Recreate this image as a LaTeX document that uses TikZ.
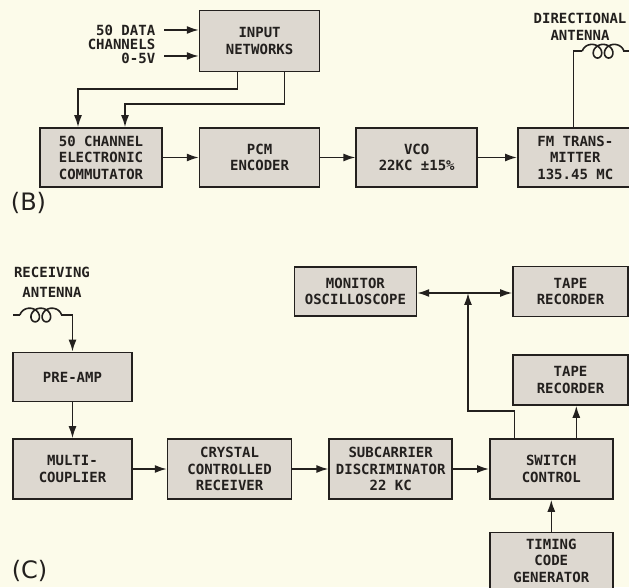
\documentclass[tikz,border=0pt]{standalone}
\usepackage{fontspec}
\setmainfont{DejaVu Sans Mono}
\newfontfamily\panelfont{DejaVu Sans}
\usetikzlibrary{positioning,arrows.meta}
\definecolor{paper}{RGB}{252,251,234}
\definecolor{boxfill}{RGB}{221,216,208}
\definecolor{ink}{RGB}{35,32,30}
\tikzset{coil/.pic = {\draw plot[domain=1.5708:17.2788, samples=120, smooth] ({1.78*\x-6.8*sin(\x r)+4.0},{-6.8*cos(\x r)});}}

\begin{document}
\begin{tikzpicture}[x=1pt, y=1pt, color=ink, line width=1.6pt,
	main/.style = {draw, fill=boxfill, minimum width=121pt, minimum height=59pt, align=center, inner sep=2pt, font=\bfseries\fontsize{14}{16.5}\selectfont},
	txt/.style = {align=center, inner sep=1pt, font=\bfseries\fontsize{14}{16}\selectfont},
	panel/.style = {inner sep=0pt, font=\panelfont\fontsize{24}{24}\selectfont},
	arr/.style = {-{Latex[length=12pt,width=8pt]}}]
	\path[use as bounding box, fill=paper] (0,0) rectangle (629,587);
	% (B) transmitting end
	\node[main, minimum width=122pt] (b1) at (101,429.5) {50 CHANNEL\\ELECTRONIC\\COMMUTATOR};
	\node[main, minimum width=120pt] (b2) [right=36pt of b1] {PCM\\ENCODER};
	\node[main] (b3) [right=35pt of b2] {VCO\\22KC ±15\%};
	\node[main, minimum width=115pt] (b4) [right=39pt of b3] {FM TRANS-\\MITTER\\135.45 MC};
	\node[main, minimum width=120pt, minimum height=61pt] (b0) [above=55pt of b2] {INPUT\\NETWORKS};
	\node[txt, align=right, anchor=east, font=\bfseries\fontsize{14}{14}\selectfont] (b5) at (157,543) {50 DATA\\CHANNELS\\0-5V};
	\node[txt, font=\bfseries\fontsize{14}{17}\selectfont] (b6) at (580,560.5) {DIRECTIONAL\\ANTENNA};
	\node[panel] (lb) at (28.5,384) {(B)};
	\coordinate (d1) at (164,557);
	\coordinate (d2) at (164,531);
	\draw[arr] (d1) -- (d1 -| b0.west);
	\draw[arr] (d2) -- (d2 -| b0.west);
	\draw[arr] ([xshift=-22pt]b0.south) -- ++(0,-17) -| ([xshift=-23pt]b1.north);
	\draw[arr] ([xshift=25pt]b0.south) -- ++(0,-32) -| ([xshift=24pt]b1.north);
	\draw[arr] (b1) -- (b2);
	\draw[arr] (b2) -- (b3);
	\draw[arr] (b3) -- (b4);
	\draw ([xshift=-2pt]b4.north) -- ++(0,76) coordinate (a1) -- ++(9,0) coordinate (a2);
	\pic at (a2) {coil};
	\draw ([xshift=41pt]a2) -- ++(20,0);
	% (C) receiving end
	\node[main, minimum width=119pt, minimum height=60pt] (c1) at (72.5,118) {MULTI-\\COUPLIER};
	\node[main, minimum width=124pt, minimum height=60pt] (c2) [right=34pt of c1] {CRYSTAL\\CONTROLLED\\RECEIVER};
	\node[main, minimum width=123pt, minimum height=60pt] (c3) [right=36pt of c2] {SUBCARRIER\\DISCRIMINATOR\\22 KC};
	\node[main, minimum width=123pt, minimum height=60pt] (c4) [right=36pt of c3] {SWITCH\\CONTROL};
	\node[main, minimum width=119pt, minimum height=49pt] (c0) [above=36pt of c1] {PRE-AMP};
	\node[main, minimum width=123pt, minimum height=56pt] (c5) [below=32pt of c4] {TIMING\\CODE\\GENERATOR};
	\node[main, minimum width=115pt, minimum height=50pt] (c6) at (570.5,207) {TAPE\\RECORDER};
	\node[main, minimum width=115pt, minimum height=50pt] (c7) [above=37pt of c6] {TAPE\\RECORDER};
	\node[main, minimum width=122pt, minimum height=49pt] (c8) [left=95pt of c7] {MONITOR\\OSCILLOSCOPE};
	\node[txt, font=\bfseries\fontsize{14}{20}\selectfont] (c9) at (52,304.5) {RECEIVING\\ANTENNA};
	\node[panel] (lc) at (29.5,16) {(C)};
	\coordinate (r1) at (13,272);
	\draw (r1) -- ++(7,0) coordinate (r2);
	\pic at (r2) {coil};
	\draw[arr] ([xshift=41pt]r2) -| (c0.north);
	\draw[arr] (c0) -- (c1);
	\draw[arr] (c1) -- (c2);
	\draw[arr] (c2) -- (c3);
	\draw[arr] (c3) -- (c4);
	\draw[arr] (c5) -- (c4);
	\draw[arr] ([xshift=25pt]c4.north) -- ([xshift=25pt]c4.north |- c6.south);
	\coordinate (j) at (468,294);
	\draw[arr] ([xshift=-37pt]c4.north) -- ++(0,27) -| (j);
	\draw[arr] (j) -- (j -| c8.east);
	\draw[arr] (j) -- (j -| c7.west);
\end{tikzpicture}
\end{document}
